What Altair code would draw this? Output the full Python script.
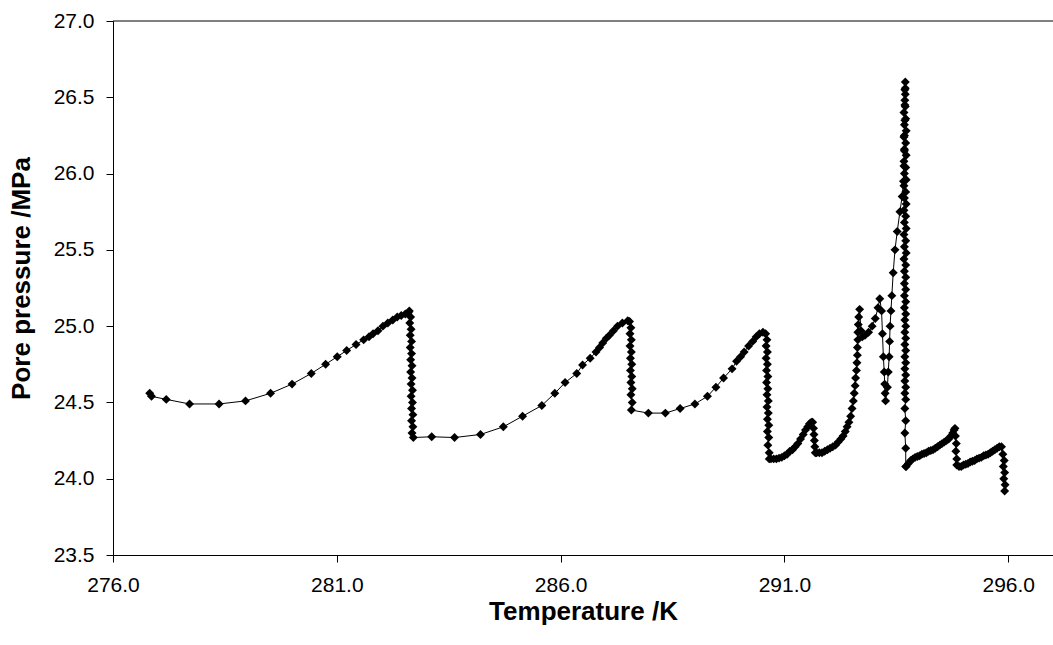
import altair as alt
import pandas as pd

# Pore pressure (MPa) against temperature (K), one list pair per stretch of the record.
cycle1_T = [276.82, 276.86, 277.19, 277.71, 278.37, 278.96, 279.52, 280.00, 280.43, 280.75,
            281.01, 281.22, 281.43, 281.60, 281.72, 281.81, 281.92, 282.03, 282.14, 282.25,
            282.35, 282.44, 282.53, 282.60]
cycle1_P = [24.56, 24.54, 24.52, 24.49, 24.49, 24.51, 24.56, 24.62, 24.69, 24.75,
            24.80, 24.84, 24.88, 24.91, 24.93, 24.95, 24.97, 25.00, 25.02, 25.04,
            25.06, 25.07, 25.08, 25.09]
drop1_T = [282.62, 282.65, 282.63, 282.66, 282.64, 282.67, 282.64, 282.67, 282.65, 282.68,
           282.65, 282.68, 282.66, 282.69, 282.66, 282.69, 282.67, 282.70, 282.67, 282.70,
           282.68, 282.71]
drop1_P = [25.10, 25.06, 25.02, 24.98, 24.94, 24.90, 24.86, 24.82, 24.78, 24.74,
           24.70, 24.66, 24.62, 24.58, 24.54, 24.50, 24.46, 24.42, 24.38, 24.34,
           24.30, 24.27]
cycle2_T = [283.12, 283.63, 284.21, 284.72, 285.15, 285.58, 285.87, 286.10, 286.36, 286.49,
            286.66, 286.79, 286.87, 286.94, 287.02, 287.09, 287.18, 287.27, 287.38, 287.50]
cycle2_P = [24.275, 24.27, 24.29, 24.34, 24.41, 24.48, 24.56, 24.63, 24.69, 24.745,
            24.79, 24.83, 24.86, 24.89, 24.92, 24.94, 24.97, 25.00, 25.02, 25.035]
drop2_T = [287.54, 287.57, 287.55, 287.58, 287.55, 287.58, 287.56, 287.59, 287.56, 287.59,
           287.57, 287.60, 287.57, 287.60, 287.58]
drop2_P = [25.03, 24.99, 24.95, 24.91, 24.87, 24.83, 24.79, 24.75, 24.71, 24.67,
           24.63, 24.59, 24.55, 24.50, 24.45]
cycle3_T = [287.96, 288.34, 288.67, 289.00, 289.28, 289.47, 289.64, 289.83, 289.93, 290.02,
            290.10, 290.20, 290.29, 290.37, 290.44, 290.52]
cycle3_P = [24.43, 24.43, 24.46, 24.49, 24.54, 24.60, 24.66, 24.72, 24.77, 24.80,
            24.83, 24.87, 24.90, 24.93, 24.95, 24.96]
drop3_T = [290.58, 290.61, 290.59, 290.62, 290.59, 290.62, 290.60, 290.63, 290.60, 290.63,
           290.61, 290.64, 290.61, 290.64, 290.62, 290.65, 290.62, 290.65, 290.63, 290.66,
           290.66]
drop3_P = [24.95, 24.91, 24.87, 24.83, 24.79, 24.75, 24.71, 24.67, 24.63, 24.59,
           24.55, 24.51, 24.47, 24.43, 24.39, 24.35, 24.31, 24.27, 24.22, 24.17,
           24.13]
cycle4a_T = [290.70, 290.76, 290.82, 290.88, 290.94, 291.00, 291.06, 291.12, 291.18, 291.24,
             291.30, 291.36, 291.42, 291.47, 291.52, 291.56, 291.60, 291.63]
cycle4a_P = [24.13, 24.13, 24.13, 24.135, 24.14, 24.15, 24.16, 24.18, 24.19, 24.21,
             24.23, 24.26, 24.29, 24.32, 24.34, 24.36, 24.37, 24.37]
drop4a_T = [291.65, 291.66, 291.67, 291.68, 291.69]
drop4a_P = [24.33, 24.29, 24.25, 24.21, 24.17]
cycle4b_T = [291.72, 291.78, 291.84, 291.90, 291.96, 292.02, 292.08, 292.14, 292.20, 292.26,
             292.31, 292.36, 292.40, 292.44, 292.48, 292.51, 292.54, 292.56, 292.58, 292.59,
             292.61, 292.62, 292.63, 292.63, 292.64, 292.64, 292.65, 292.66, 292.68]
cycle4b_P = [24.17, 24.17, 24.17, 24.18, 24.19, 24.20, 24.21, 24.22, 24.24, 24.26,
             24.28, 24.31, 24.34, 24.37, 24.41, 24.46, 24.51, 24.56, 24.61, 24.66,
             24.71, 24.76, 24.81, 24.86, 24.91, 24.96, 25.01, 25.06, 25.11]
hump_T = [292.71, 292.74, 292.80, 292.88, 292.96, 293.03, 293.09, 293.13, 293.17, 293.19,
          293.21, 293.23, 293.24, 293.25, 293.26, 293.30, 293.32, 293.34, 293.35, 293.36,
          293.38, 293.40, 293.43, 293.47, 293.52, 293.58, 293.63]
hump_P = [24.97, 24.93, 24.94, 24.96, 25.00, 25.05, 25.12, 25.18, 25.10, 24.95,
          24.80, 24.70, 24.62, 24.56, 24.51, 24.60, 24.70, 24.80, 24.90, 25.00,
          25.10, 25.20, 25.35, 25.50, 25.62, 25.75, 25.85]
spike_T = [293.66, 293.67, 293.68, 293.68, 293.69, 293.69, 293.69, 293.70, 293.70, 293.70,
           293.69, 293.70, 293.67, 293.71, 293.68, 293.72, 293.67, 293.71, 293.68, 293.72,
           293.67, 293.71, 293.68, 293.72, 293.67, 293.71, 293.68, 293.72, 293.67, 293.71,
           293.68, 293.72, 293.67, 293.71, 293.68, 293.72, 293.67, 293.71, 293.68, 293.71,
           293.68, 293.71, 293.68, 293.71, 293.68, 293.71, 293.69, 293.71, 293.69, 293.71,
           293.69, 293.71, 293.69, 293.71, 293.69, 293.71, 293.69, 293.71, 293.69, 293.71,
           293.69, 293.71, 293.69, 293.71, 293.71]
spike_P = [25.95, 26.05, 26.15, 26.25, 26.35, 26.45, 26.55, 26.60, 26.56, 26.52,
           26.48, 26.44, 26.40, 26.36, 26.32, 26.28, 26.24, 26.20, 26.16, 26.12,
           26.08, 26.04, 26.00, 25.96, 25.92, 25.88, 25.84, 25.80, 25.76, 25.72,
           25.68, 25.64, 25.60, 25.56, 25.52, 25.48, 25.44, 25.40, 25.36, 25.32,
           25.28, 25.24, 25.20, 25.16, 25.12, 25.08, 25.04, 25.00, 24.96, 24.92,
           24.88, 24.84, 24.80, 24.76, 24.72, 24.68, 24.64, 24.60, 24.56, 24.52,
           24.46, 24.38, 24.30, 24.20, 24.08]
cycle5_T = [293.72, 293.77, 293.82, 293.87, 293.92, 293.97, 294.02, 294.07, 294.12, 294.17,
            294.22, 294.27, 294.32, 294.37, 294.42, 294.47, 294.52, 294.57, 294.62, 294.67,
            294.72, 294.76, 294.79, 294.81]
cycle5_P = [24.08, 24.10, 24.12, 24.13, 24.14, 24.145, 24.15, 24.16, 24.165, 24.17,
            24.18, 24.185, 24.19, 24.20, 24.21, 24.22, 24.23, 24.24, 24.25, 24.26,
            24.28, 24.30, 24.32, 24.33]
drop5_T = [294.82, 294.84, 294.83, 294.85, 294.85]
drop5_P = [24.28, 24.23, 24.18, 24.13, 24.09]
cycle6_T = [294.90, 294.95, 295.00, 295.05, 295.10, 295.15, 295.20, 295.25, 295.30, 295.35,
            295.40, 295.45, 295.50, 295.55, 295.60, 295.65, 295.70, 295.75, 295.80, 295.85]
cycle6_P = [24.08, 24.08, 24.09, 24.095, 24.10, 24.11, 24.115, 24.12, 24.13, 24.135,
            24.14, 24.15, 24.155, 24.16, 24.17, 24.18, 24.19, 24.20, 24.21, 24.21]
drop6_T = [295.88, 295.91, 295.89, 295.92, 295.90, 295.93, 295.92]
drop6_P = [24.16, 24.12, 24.08, 24.04, 24.00, 23.96, 23.92]

segments = [
    (cycle1_T, cycle1_P), (drop1_T, drop1_P), (cycle2_T, cycle2_P), (drop2_T, drop2_P),
    (cycle3_T, cycle3_P), (drop3_T, drop3_P), (cycle4a_T, cycle4a_P), (drop4a_T, drop4a_P),
    (cycle4b_T, cycle4b_P), (hump_T, hump_P), (spike_T, spike_P), (cycle5_T, cycle5_P),
    (drop5_T, drop5_P), (cycle6_T, cycle6_P), (drop6_T, drop6_P),
]

rows = []
for temps, pressures in segments:
    for t, p in zip(temps, pressures):
        rows.append({"seq": len(rows), "T": t, "P": p})
df = pd.DataFrame(rows)

x_ticks = [276.0, 281.0, 286.0, 291.0, 296.0]
y_ticks = [23.5, 24.0, 24.5, 25.0, 25.5, 26.0, 26.5, 27.0]

W, H = 940, 534
FONT = "Liberation Sans"

x_enc = alt.X(
    "T:Q",
    scale=alt.Scale(domain=[276.0, 297.0], nice=False, zero=False),
    axis=alt.Axis(
        values=x_ticks, format=".1f", title="Temperature /K",
        titleX=W / 2, titleY=56, titleBaseline="middle",
    ),
)
y_enc = alt.Y(
    "P:Q",
    scale=alt.Scale(domain=[23.5, 27.0], nice=False, zero=False),
    axis=alt.Axis(
        values=y_ticks, format=".1f", title="Pore pressure /MPa",
        titleX=-92, titleY=H / 2 - 10, titleAngle=270,
        titleAlign="center", titleBaseline="middle",
    ),
)

trace = alt.Chart(df).mark_line(
    color="black", strokeWidth=1,
    point=alt.OverlayMarkDef(shape="diamond", filled=True, size=80, color="black", opacity=1),
).encode(x=x_enc, y=y_enc, order="seq:Q")

# top edge of the plot frame
frame_top = alt.Chart(pd.DataFrame({"k": [0]})).mark_rule(color="black", strokeWidth=1).encode(
    x=alt.value(0), x2=alt.value(W), y=alt.value(0)
)

chart = alt.layer(trace, frame_top).properties(
    width=W, height=H,
    padding={"left": 113, "top": 21, "right": 0, "bottom": 90},
    autosize=alt.AutoSizeParams(type="none"),
    background="white",
).configure_view(stroke=None).configure_axis(
    grid=False,
    domainColor="black", domainWidth=1,
    tickColor="black", tickSize=7, tickWidth=1,
    labelFont=FONT, labelFontSize=21, labelColor="black", labelPadding=12,
    labelFlush=False, labelOverlap=False,
    titleFont=FONT, titleFontSize=26, titleFontWeight="bold", titleColor="black",
)

chart.save("out.html", embed_options={"renderer": "svg", "actions": False})
